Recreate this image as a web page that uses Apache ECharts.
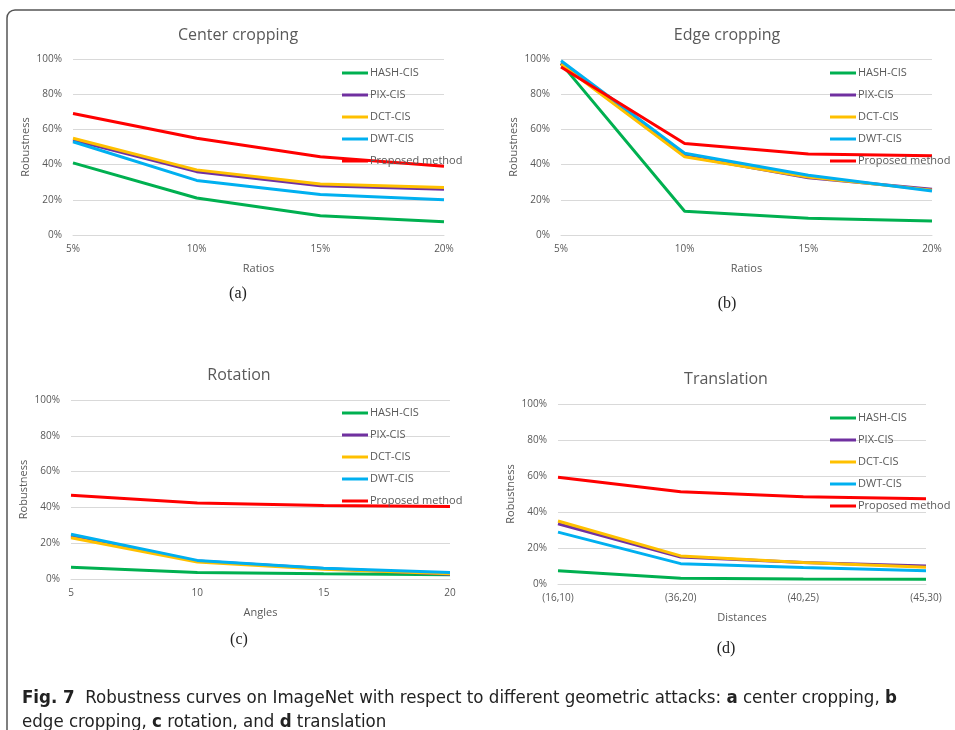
<!DOCTYPE html>
<html><head><meta charset="utf-8">
<script src="https://cdn.jsdelivr.net/npm/echarts@6/dist/echarts.min.js"></script>
<style>html,body{margin:0;padding:0;background:#fff}#c{width:955px;height:730px}</style>
</head><body><div id="c"></div>
<script>
const seriesNames = ['HASH-CIS','PIX-CIS','DCT-CIS','DWT-CIS','Proposed method'];
const seriesColors = ['#00B050','#7030A0','#FFC000','#00B0F0','#FF0000'];

const ratioLabels = ['5%','10%','15%','20%'];
const angleLabels = ['5','10','15','20'];
const distanceLabels = ['(16,10)','(36,20)','(40,25)','(45,30)'];

// (a) Center cropping
const centerHASH = [41, 21, 11, 7.5];
const centerPIX  = [54, 36, 28, 26];
const centerDCT  = [55, 37, 29, 27];
const centerDWT  = [53, 31, 23, 20];
const centerProp = [69, 55, 44.5, 39];

// (b) Edge cropping
const edgeHASH = [97.5, 13.5, 9.5, 8];
const edgePIX  = [97.5, 45, 32.5, 26];
const edgeDCT  = [97, 44.5, 33, 25.5];
const edgeDWT  = [99, 46.5, 34, 25];
const edgeProp = [95.5, 52, 46, 45];

// (c) Rotation
const rotHASH = [6.5, 3.7, 3, 2.4];
const rotPIX  = [24, 10, 5.8, 2.6];
const rotDCT  = [23, 9.5, 5.4, 3];
const rotDWT  = [25, 10.4, 6, 3.6];
const rotProp = [46.8, 42.5, 41, 40.5];

// (d) Translation
const trHASH = [7.4, 3.2, 2.8, 2.6];
const trPIX  = [33.5, 15, 12, 10];
const trDCT  = [35, 15.6, 11.9, 9.3];
const trDWT  = [28.8, 11.3, 9.1, 7.4];
const trProp = [59.3, 51.3, 48.5, 47.4];

const panels = [
  {title:'Center cropping', tag:'(a)', xName:'Ratios', cats:ratioLabels, data:[centerHASH,centerPIX,centerDCT,centerDWT,centerProp],
   grid:{left:73, top:59, width:371, height:176}, titleX:233, titleY:22, tagY:281, legend:{left:342, top:66}},
  {title:'Edge cropping', tag:'(b)', xName:'Ratios', cats:ratioLabels, data:[edgeHASH,edgePIX,edgeDCT,edgeDWT,edgeProp],
   grid:{left:561, top:59, width:371, height:176}, titleX:722, titleY:22, tagY:291, legend:{left:830, top:66}},
  {title:'Rotation', tag:'(c)', xName:'Angles', cats:angleLabels, data:[rotHASH,rotPIX,rotDCT,rotDWT,rotProp],
   grid:{left:71, top:400, width:379, height:179}, titleX:234, titleY:362, tagY:627, legend:{left:342, top:406}},
  {title:'Translation', tag:'(d)', xName:'Distances', cats:distanceLabels, data:[trHASH,trPIX,trDCT,trDWT,trProp],
   grid:{left:558, top:404, width:368, height:180}, titleX:721, titleY:366, tagY:636, legend:{left:830, top:411}}
];

const FONT = 'Open Sans';
const gray = '#595959';
const option = {animation:false, title:[], grid:[], xAxis:[], yAxis:[], legend:[], series:[], graphic:[]};

panels.forEach((p, i) => {
  option.grid.push(Object.assign({containLabel:false}, p.grid));
  option.title.push({text:p.title, left:p.titleX, top:p.titleY, textAlign:'center',
    textStyle:{fontFamily:FONT, fontSize:16, fontWeight:'normal', color:gray}});
  option.title.push({text:p.tag, left:p.titleX, top:p.tagY, textAlign:'center',
    textStyle:{fontFamily:'Liberation Serif', fontSize:16, fontWeight:'normal', color:'#222'}});
  option.xAxis.push({type:'category', gridIndex:i, data:p.cats, boundaryGap:false,
    name:p.xName, nameLocation:'middle', nameGap:28,
    nameTextStyle:{fontFamily:FONT, fontSize:11, color:gray},
    axisLine:{show:true, lineStyle:{color:'#D9D9D9'}}, axisTick:{show:false},
    axisLabel:{fontFamily:FONT, fontSize:10, color:gray, margin:9}});
  option.yAxis.push({type:'value', gridIndex:i, min:0, max:100, interval:20,
    name:'Robustness', nameLocation:'middle', nameGap:42,
    nameTextStyle:{fontFamily:FONT, fontSize:11, color:gray},
    axisLine:{show:false}, axisTick:{show:false},
    splitLine:{lineStyle:{color:'#D9D9D9', width:1}},
    axisLabel:{fontFamily:FONT, fontSize:10, color:gray, margin:11, formatter: v => v + '%'}});
  option.legend.push({orient:'vertical', left:p.legend.left, top:p.legend.top, data:seriesNames,
    icon:'rect', itemWidth:26, itemHeight:3, itemGap:8, padding:0, selectedMode:false,
    textStyle:{fontFamily:FONT, fontSize:11, color:gray, padding:[0,0,0,-3], lineHeight:14}});
  p.data.forEach((d, k) => {
    option.series.push({type:'line', name:seriesNames[k], xAxisIndex:i, yAxisIndex:i, data:d,
      showSymbol:false, symbol:'none', color:seriesColors[k], lineStyle:{width:3, color:seriesColors[k]}});
  });
});

option.graphic.push({type:'rect', shape:{x:7, y:10, width:1100, height:900, r:[8,0,0,0]},
  style:{fill:'none', stroke:'#555', lineWidth:1.5}, z:-1});
const CAP = 'DejaVu Sans Condensed';
option.title.push({left:22, top:686, padding:0,
  text:'{b|Fig. 7}  Robustness curves on ImageNet with respect to different geometric attacks: {b|a} center cropping, {b|b}\nedge cropping, {b|c} rotation, and {b|d} translation',
  textStyle:{fontFamily:CAP, fontSize:18.5, fontWeight:'normal', color:'#222', lineHeight:24,
    rich:{b:{fontFamily:CAP, fontSize:18.5, fontWeight:'bold', color:'#222', lineHeight:24}}}});

const chart = echarts.init(document.getElementById('c'), null, {renderer:'canvas'});
chart.setOption(option);
</script></body></html>
